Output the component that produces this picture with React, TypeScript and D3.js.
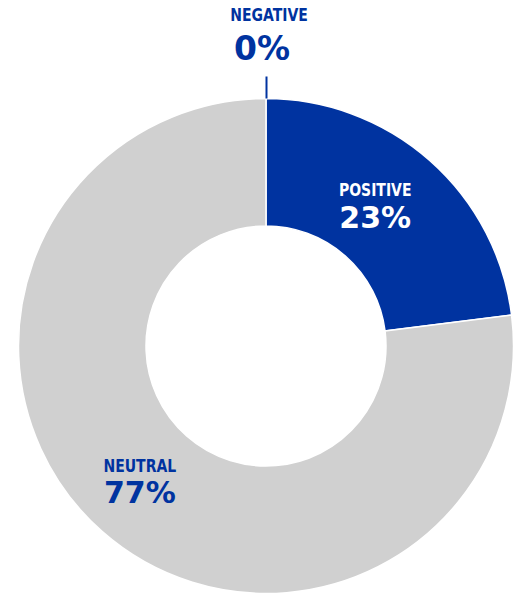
import React, { useEffect } from "react";
import * as d3 from "d3";

const categories = ["POSITIVE", "NEUTRAL", "NEGATIVE"];
const values = [23, 77, 0];
const valueLabels = ["23%", "77%", "0%"];
const colors = ["#0033A0", "#D0D0D0", "#7a7a7a"];
const textColors = ["#ffffff", "#0033A0", "#0033A0"];

const W = 518;
const H = 596;
const cx = 266;
const cy = 346;
const outerR = 247.5;
const innerR = 120;

export default function App() {
  useEffect(() => {
    document.body.style.margin = "0";
  }, []);

  const pie = d3.pie<number>().sort(null).value((d) => d);
  const arcs = pie(values);
  const arcGen = d3.arc<d3.PieArcDatum<number>>().innerRadius(innerR).outerRadius(outerR);
  const labelR = (innerR + outerR) / 2 - 2;
  const labelArc = d3.arc<d3.PieArcDatum<number>>().innerRadius(labelR).outerRadius(labelR);
  const font = "'DejaVu Sans', sans-serif";
  const nudges = [[-11, -3], [-6, 0], [0, 0]];

  return (
    <svg width={W} height={H} style={{ position: "absolute", left: 0, top: 0, display: "block" }}>
      <g transform={`translate(${cx},${cy})`}>
        {arcs.map((a, i) =>
          a.value > 0 ? (
            <path key={i} d={arcGen(a) || ""} fill={colors[i]} stroke="#ffffff" strokeWidth={1.5} />
          ) : null
        )}
        {arcs.map((a, i) => {
          if (a.value > 0) {
            const [x, y] = labelArc.centroid(a);
            const tx = x + nudges[i][0];
            const ty = y + nudges[i][1];
            return (
              <g key={"l" + i} transform={`translate(${tx},${ty})`} fill={textColors[i]} fontFamily={font} fontWeight="bold" textAnchor="middle">
                <text y={-8.5} fontSize={14} transform="scale(1,1.2)">{categories[i]}</text>
                <text y={21} fontSize={30}>{valueLabels[i]}</text>
              </g>
            );
          }
          // zero-value slice: leader line outside at its angle
          const ang = a.startAngle;
          const x1 = Math.sin(ang) * outerR;
          const y1 = -Math.cos(ang) * outerR;
          const x2 = Math.sin(ang) * (outerR + 22);
          const y2 = -Math.cos(ang) * (outerR + 22);
          return (
            <g key={"l" + i}>
              <line x1={x1 + 0.5} y1={y1} x2={x2 + 0.5} y2={y2} stroke={colors[0]} strokeWidth={2} />
              <g transform={`translate(${x2},${y2})`} fill={textColors[i]} fontFamily={font} fontWeight="bold" textAnchor="middle">
                <text x={3} y={-46.5} fontSize={14} transform="scale(1,1.2)">{categories[i]}</text>
                <text x={-4} y={-17} fontSize={33}>{valueLabels[i]}</text>
              </g>
            </g>
          );
        })}
      </g>
    </svg>
  );
}
